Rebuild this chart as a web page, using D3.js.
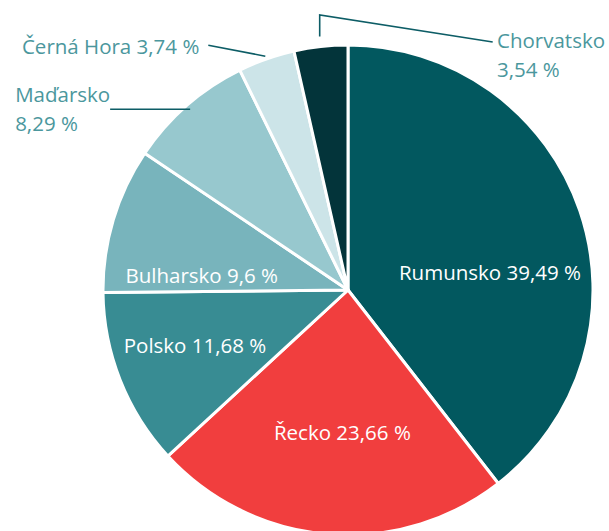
<!DOCTYPE html>
<html>
<head>
<meta charset="utf-8">
<title>pie</title>
<style>
  body{margin:0;background:#fff;}
  svg text{font-family:"Open Sans", "Noto Sans", sans-serif;}
</style>
</head>
<body>
<div id="container"></div>
<script src="https://cdn.jsdelivr.net/npm/d3@7/dist/d3.min.js"></script>
<script>
  // data
  var countries = ["Rumunsko","Řecko","Polsko","Bulharsko","Maďarsko","Černá Hora","Chorvatsko"];
  var shares = [39.49, 23.66, 11.68, 9.6, 8.29, 3.74, 3.54];
  var colors = ["#02585f","#f13e3e","#388c93","#78b4bc","#97c8ce","#cce4e8","#03343a"];

  var width = 609, height = 531;
  var cx = 348, cy = 290, radius = 245;
  var fs = "20.5px";

  var fmt = function(v){ return String(v).replace(".", ",") + " %"; };

  var svg = d3.select("#container").append("svg")
      .attr("width", width)
      .attr("height", height);

  var g = svg.append("g").attr("transform","translate(" + cx + "," + cy + ")");

  var pie = d3.pie().sort(null).value(function(d){ return d.v; });
  var arc = d3.arc().innerRadius(0).outerRadius(radius);

  var rows = countries.map(function(c,i){ return {name:c, v:shares[i], color:colors[i]}; });
  var arcs = pie(rows);

  g.selectAll("path.slice")
    .data(arcs)
    .enter().append("path")
    .attr("class","slice")
    .attr("d", arc)
    .attr("fill", function(d){ return d.data.color; })
    .attr("stroke","#fff")
    .attr("stroke-width",3)
    .attr("stroke-linejoin","round");

  function polar(a, r){ return [Math.sin(a)*r, -Math.cos(a)*r]; }
  function mid(d){ return (d.startAngle + d.endAngle)/2; }

  // labels inside the big slices: [angle shift (deg), radius]
  var inside = {
    "Rumunsko": [12, 143],
    "Řecko": [-2.5, 143],
    "Polsko": [1.5, 163],
    "Bulharsko": [-11, 147]
  };

  arcs.forEach(function(d){
    var spec = inside[d.data.name];
    if(!spec) return;
    var p = polar(mid(d) + spec[0]*Math.PI/180, spec[1]);
    g.append("text")
      .attr("x", p[0]).attr("y", p[1])
      .attr("dy","0.35em")
      .attr("text-anchor","middle")
      .attr("fill","#fff")
      .style("font-size", fs)
      .text(d.data.name + " " + fmt(d.data.v));
  });

  // outside labels with leader lines
  var lineCol = "#0d5d66", textCol = "#4b979d";
  var byName = {};
  arcs.forEach(function(d){ byName[d.data.name] = d; });

  // Maďarsko
  var dm = byName["Maďarsko"];
  var pm = polar(mid(dm), radius - 5);
  g.append("line").attr("x1", pm[0]).attr("y1", pm[1])
    .attr("x2", pm[0] - 80).attr("y2", pm[1])
    .attr("stroke", lineCol).attr("stroke-width",1.6);
  var tm = g.append("text").attr("fill", textCol).style("font-size", fs)
    .attr("x", pm[0] - 175).attr("y", pm[1] - 7);
  tm.append("tspan").text(dm.data.name);
  tm.append("tspan").attr("x", pm[0] - 175).attr("dy", 29).text(fmt(dm.data.v));

  // Černá Hora
  var dc = byName["Černá Hora"];
  var pc = polar(mid(dc), radius + 3);
  g.append("line").attr("x1", pc[0]).attr("y1", pc[1])
    .attr("x2", pc[0] - 57).attr("y2", pc[1] - 11)
    .attr("stroke", lineCol).attr("stroke-width",1.6);
  g.append("text").attr("fill", textCol).style("font-size", fs)
    .attr("x", pc[0] - 66).attr("y", pc[1] - 2)
    .attr("text-anchor","end")
    .text(dc.data.name + " " + fmt(dc.data.v));

  // Chorvatsko
  var dh = byName["Chorvatsko"];
  var ph1 = polar(mid(dh), radius + 10);
  var ph2 = [ph1[0], -radius - 30];
  g.append("polyline")
    .attr("points", [ph1, ph2, [ph1[0] + 173, ph2[1] + 27]].map(function(p){ return p.join(","); }).join(" "))
    .attr("fill","none")
    .attr("stroke", lineCol).attr("stroke-width",1.6);
  var th = g.append("text").attr("fill", textCol).style("font-size", fs)
    .attr("x", 149).attr("y", -242);
  th.append("tspan").text(dh.data.name);
  th.append("tspan").attr("x", 149).attr("dy", 29).text(fmt(dh.data.v));
</script>
</body>
</html>
